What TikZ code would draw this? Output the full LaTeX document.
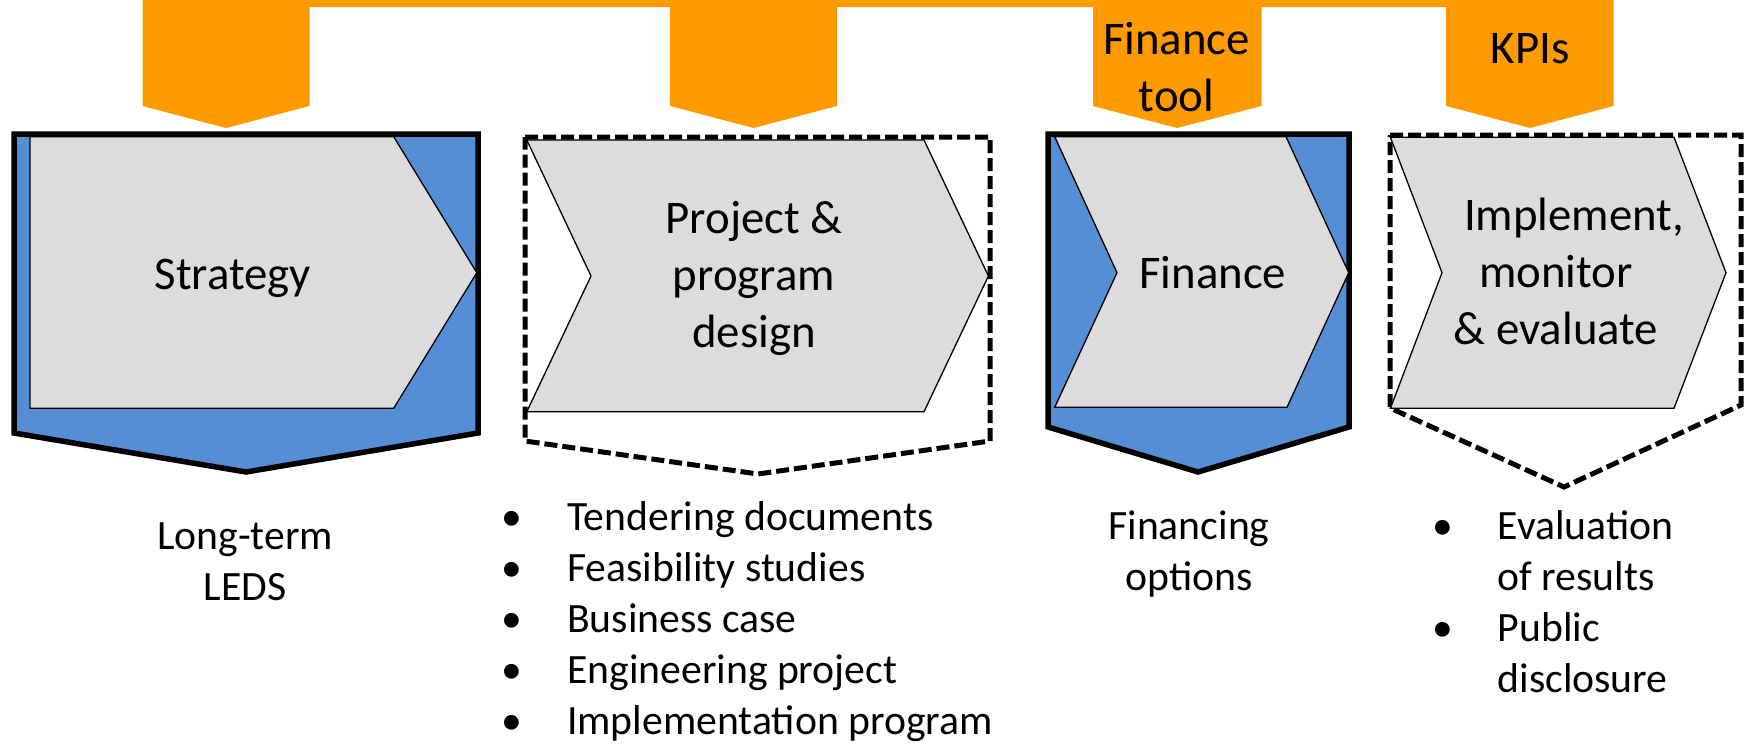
\documentclass[tikz,border=0pt]{standalone}
\usepackage{fontspec}
\setmainfont{Carlito}
\definecolor{orangeC}{HTML}{FF9A00}
\definecolor{blueC}{HTML}{558ED5}
\definecolor{greyC}{HTML}{DCDCDC}
\newcommand{\bul}{\makebox[55pt][l]{\makebox[0pt][c]{\textbullet}}}
\begin{document}
\begin{tikzpicture}[x=1pt,y=-1pt,
  tabshape/.style={fill=orangeC, draw=none},
  bluebox/.style={fill=blueC, draw=black, line width=5.5pt, line join=miter},
  dashbox/.style={draw=black, line width=5pt, dash pattern=on 13pt off 5pt, line join=miter},
  chev/.style={fill=greyC, draw=black, line width=1.3pt, line join=miter},
  bigtext/.style={font=\fontsize{46.8}{57}\selectfont, inner sep=0pt, align=center, anchor=base},
  smalltext/.style={font=\fontsize{41.7}{51}\selectfont, inner sep=0pt, align=center, anchor=base},
  listtext/.style={font=\fontsize{41.7}{51}\selectfont, inner sep=0pt, anchor=base west}]
\useasboundingbox (0,0) rectangle (1746,744);
% orange bar with tabs
\fill[tabshape] (142.5,0) -- (1613.5,0) -- (1613.5,106) -- (1530,128) -- (1446,106) -- (1446,7)
  -- (1261.5,7) -- (1261.5,106) -- (1177,128) -- (1093,106) -- (1093,7)
  -- (837,7) -- (837,106) -- (753.5,128) -- (670,106) -- (670,7)
  -- (309.6,7) -- (309.6,106) -- (226,128) -- (142.5,106) -- cycle;
% box 1
\draw[bluebox] (14,134) -- (478,134) -- (478,433) -- (246,472) -- (14,433) -- cycle;
\draw[chev] (29.9,136.7) -- (393.7,136.7) -- (476.8,272.7) -- (393.7,408.3) -- (29.9,408.3) -- cycle;
% box 2
\draw[dashbox] (525,137) -- (990,137) -- (990,441) -- (758,474) -- (525,441) -- cycle;
\draw[chev] (526.8,140) -- (924,140) -- (988.4,276) -- (924,411.7) -- (526.8,411.7) -- (591,276) -- cycle;
% box 3
\draw[bluebox] (1048,134) -- (1349,134) -- (1349,427) -- (1198,472) -- (1048,427) -- cycle;
\draw[chev] (1054.7,136.7) -- (1286,136.7) -- (1348.7,272.7) -- (1287,407.3) -- (1054.7,407.3) -- (1117,272.7) -- cycle;
% box 4
\draw[dashbox] (1390,135) -- (1741,135) -- (1741,405) -- (1564,487) -- (1390,408) -- cycle;
\draw[chev] (1390.4,137.3) -- (1674,137.3) -- (1726,272.7) -- (1674,408.3) -- (1390.4,408.3) -- (1442,272.7) -- cycle;
% texts (multi-line nodes: base anchor = last line)
\node[bigtext] (strategy) at (232.7,289) {Strategy};
\node[bigtext] (project) at (754,347) {Project \&\\program\\design};
\node[bigtext] (finance) at (1212.7,288) {Finance};
\node[bigtext] (implement) at (1556,344) {\hspace*{36pt}Implement,\\monitor\\\& evaluate};
\node[bigtext] (ftool) at (1176.5,111) {Finance\\tool};
\node[bigtext] (kpis) at (1530,63) {KPIs};
\node[smalltext] (leds) at (245,600) {Long-term\\LEDS};
\node[smalltext] (fopts) at (1189,590) {Financing\\options};
\node[listtext] (list1) at (512,530) {\begin{tabular}[t]{@{}l@{}l@{}}
\bul & Tendering documents\\
\bul & Feasibility studies\\
\bul & Business case\\
\bul & Engineering project\\
\bul & Implementation program
\end{tabular}};
\node[listtext] (list2) at (1442.5,539) {\begin{tabular}[t]{@{}l@{}l@{}}
\bul & Evaluation\\
 & of results\\
\bul & Public\\
 & disclosure
\end{tabular}};
\end{tikzpicture}
\end{document}
